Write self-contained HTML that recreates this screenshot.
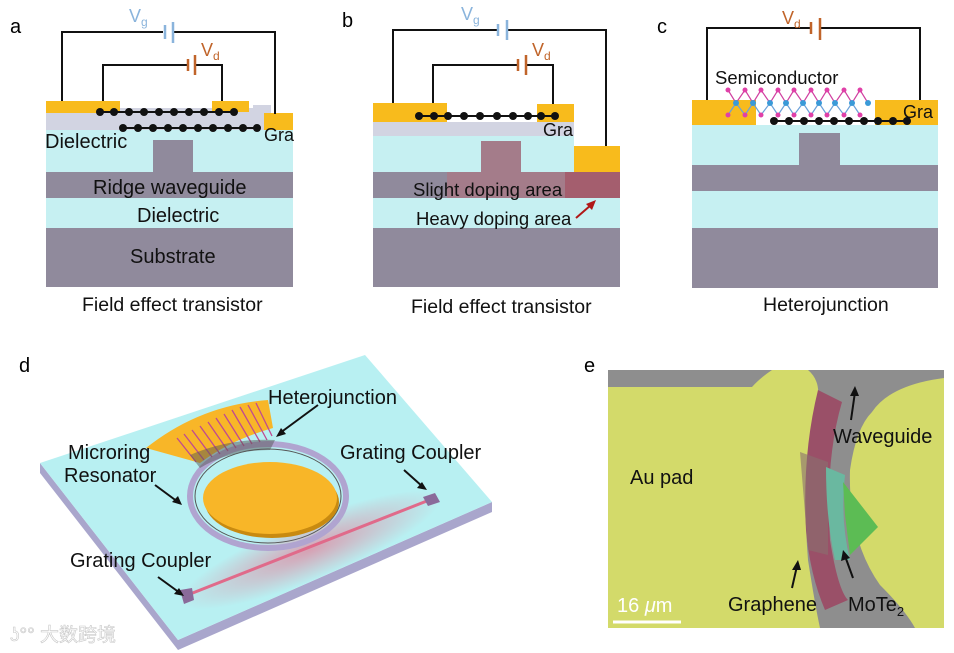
<!DOCTYPE html>
<html><head><meta charset="utf-8"><style>
html,body{margin:0;padding:0;background:#fff;}
svg{display:block;}
text{font-family:"Liberation Sans","Noto Sans CJK SC",sans-serif;}
</style></head><body>
<svg width="954" height="653" viewBox="0 0 954 653" xmlns="http://www.w3.org/2000/svg">
<defs>
<radialGradient id="glow" cx="0.5" cy="0.5" r="0.5"><stop offset="0" stop-color="#f06080" stop-opacity="0.55"/><stop offset="1" stop-color="#f06080" stop-opacity="0"/></radialGradient>
</defs>

<!-- ===== Panel a ===== -->
<text x="10" y="33" font-size="20">a</text>
<rect x="46" y="130" width="247" height="42" fill="#c6f0f2"/>
<rect x="153" y="140" width="40" height="32" fill="#908a9c"/>
<rect x="46" y="172" width="247" height="26" fill="#908a9c"/>
<rect x="46" y="198" width="247" height="30" fill="#c6f0f2"/>
<rect x="46" y="228" width="247" height="59" fill="#908a9c"/>
<rect x="46" y="113" width="218" height="17" fill="#d2d4e2"/>
<rect x="120" y="108" width="140" height="8" fill="#d2d4e2"/>
<rect x="253" y="105" width="18" height="8" fill="#d2d4e2"/>
<rect x="46" y="101" width="74" height="12" fill="#f8bb1c"/>
<rect x="212" y="101" width="37" height="11" fill="#f8bb1c"/>
<rect x="264" y="113" width="29" height="17" fill="#f8bb1c"/>
<g fill="none" stroke="#111" stroke-width="2">
<polyline points="62,101 62,32 163,32"/><polyline points="174,32 275,32 275,114"/>
<polyline points="103,101 103,65 187,65"/><polyline points="195,65 222,65 222,101"/>
</g>
<g stroke="#8ab4dc" stroke-width="2.5"><line x1="165" y1="25" x2="165" y2="39"/><line x1="173" y1="22" x2="173" y2="43"/></g>
<g stroke="#c0642a" stroke-width="2.5"><line x1="188" y1="59" x2="188" y2="71"/><line x1="195" y1="55" x2="195" y2="75"/></g>
<text x="129" y="22" font-size="18" fill="#8ab4dc">V<tspan font-size="12" dy="4">g</tspan></text>
<text x="201" y="56" font-size="18" fill="#c0642a">V<tspan font-size="12" dy="4">d</tspan></text>
<line x1="100" y1="112" x2="235" y2="112" stroke="#111" stroke-width="2"/>
<g fill="#111"><circle cx="100" cy="112" r="4"/><circle cx="114" cy="112" r="4"/><circle cx="129" cy="112" r="4"/><circle cx="144" cy="112" r="4"/><circle cx="159" cy="112" r="4"/><circle cx="174" cy="112" r="4"/><circle cx="189" cy="112" r="4"/><circle cx="204" cy="112" r="4"/><circle cx="219" cy="112" r="4"/><circle cx="234" cy="112" r="4"/></g>
<line x1="122" y1="128" x2="258" y2="128" stroke="#111" stroke-width="2"/>
<g fill="#111"><circle cx="123" cy="128" r="4"/><circle cx="138" cy="128" r="4"/><circle cx="153" cy="128" r="4"/><circle cx="168" cy="128" r="4"/><circle cx="183" cy="128" r="4"/><circle cx="198" cy="128" r="4"/><circle cx="213" cy="128" r="4"/><circle cx="228" cy="128" r="4"/><circle cx="243" cy="128" r="4"/><circle cx="257" cy="128" r="4"/></g>
<text x="45" y="148" font-size="20" fill="#111">Dielectric</text>
<text x="264" y="141" font-size="18" fill="#111">Gra</text>
<text x="93" y="194" font-size="20" fill="#111">Ridge waveguide</text>
<text x="137" y="222" font-size="20" fill="#111">Dielectric</text>
<text x="130" y="263" font-size="20" fill="#111">Substrate</text>
<text x="82" y="311" font-size="19.5" fill="#111">Field effect transistor</text>

<!-- ===== Panel b ===== -->
<text x="342" y="27" font-size="20">b</text>
<rect x="373" y="136" width="201" height="36" fill="#c6f0f2"/>
<rect x="574" y="146" width="46" height="26" fill="#f8bb1c"/>
<rect x="481" y="141" width="40" height="31" fill="#a47c8a"/>
<rect x="373" y="172" width="74" height="26" fill="#908a9c"/>
<rect x="447" y="172" width="118" height="26" fill="#a47c8a"/>
<rect x="565" y="172" width="55" height="26" fill="#a45e6e"/>
<rect x="373" y="198" width="247" height="30" fill="#c6f0f2"/>
<rect x="373" y="228" width="247" height="59" fill="#908a9c"/>
<rect x="373" y="122" width="201" height="14" fill="#d2d4e2"/>
<rect x="373" y="103" width="74" height="19" fill="#f8bb1c"/>
<rect x="537" y="104" width="37" height="18" fill="#f8bb1c"/>
<g fill="none" stroke="#111" stroke-width="2">
<polyline points="393,103 393,30 497,30"/><polyline points="508,30 606,30 606,146"/>
<polyline points="433,103 433,65 517,65"/><polyline points="527,65 553,65 553,104"/>
</g>
<g stroke="#8ab4dc" stroke-width="2.5"><line x1="498" y1="24" x2="498" y2="36"/><line x1="507" y1="20" x2="507" y2="40"/></g>
<g stroke="#c0642a" stroke-width="2.5"><line x1="518" y1="59" x2="518" y2="71"/><line x1="526" y1="55" x2="526" y2="75"/></g>
<text x="461" y="20" font-size="18" fill="#8ab4dc">V<tspan font-size="12" dy="4">g</tspan></text>
<text x="532" y="56" font-size="18" fill="#c0642a">V<tspan font-size="12" dy="4">d</tspan></text>
<line x1="418" y1="116" x2="556" y2="116" stroke="#111" stroke-width="2"/>
<g fill="#111"><circle cx="419" cy="116" r="4"/><circle cx="434" cy="116" r="4"/><circle cx="448" cy="116" r="4"/><circle cx="464" cy="116" r="4"/><circle cx="480" cy="116" r="4"/><circle cx="497" cy="116" r="4"/><circle cx="513" cy="116" r="4"/><circle cx="528" cy="116" r="4"/><circle cx="541" cy="116" r="4"/><circle cx="555" cy="116" r="4"/></g>
<text x="543" y="136" font-size="18" fill="#111">Gra</text>
<text x="413" y="196" font-size="18.5" fill="#111">Slight doping area</text>
<text x="416" y="225" font-size="18.5" fill="#111">Heavy doping area</text>
<line x1="576" y1="218" x2="591" y2="205" stroke="#b01818" stroke-width="2"/>
<polygon points="596,200 586,204 592,210" fill="#b01818"/>
<text x="411" y="313" font-size="19.5" fill="#111">Field effect transistor</text>

<!-- ===== Panel c ===== -->
<text x="657" y="33" font-size="20">c</text>
<rect x="692" y="125" width="246" height="40" fill="#c6f0f2"/>
<rect x="799" y="133" width="41" height="32" fill="#908a9c"/>
<rect x="692" y="165" width="246" height="26" fill="#908a9c"/>
<rect x="692" y="191" width="246" height="37" fill="#c6f0f2"/>
<rect x="692" y="228" width="246" height="60" fill="#908a9c"/>
<rect x="692" y="100" width="64" height="25" fill="#f8bb1c"/>
<rect x="875" y="100" width="63" height="25" fill="#f8bb1c"/>
<g fill="none" stroke="#111" stroke-width="2">
<polyline points="707,100 707,28 810,28"/><polyline points="821,28 920,28 920,100"/>
</g>
<g stroke="#c0642a" stroke-width="2.5"><line x1="811" y1="22" x2="811" y2="34"/><line x1="820" y1="18" x2="820" y2="40"/></g>
<text x="782" y="24" font-size="18" fill="#c0642a">V<tspan font-size="12" dy="4">d</tspan></text>
<text x="715" y="84" font-size="18.5" fill="#111">Semiconductor</text>
<g stroke="#d040a0" stroke-width="1.2" fill="none">
<polyline points="728,90 736,103 745,90 753,103 761,90 770,103 778,90 786,103 794,90 803,103 811,90 819,103 827,90 835,103 844,90 852,103 860,90 868,103 "/>
</g>
<g stroke="#6aa0d8" stroke-width="1.2" fill="none">
<polyline points="728,115 736,103 745,115 753,103 761,115 770,103 778,115 786,103 794,115 803,103 811,115 819,103 827,115 835,103 844,115 852,103 860,115"/>
</g>
<g fill="#e040a8"><circle cx="728" cy="90" r="2.5"/><circle cx="745" cy="90" r="2.5"/><circle cx="761" cy="90" r="2.5"/><circle cx="778" cy="90" r="2.5"/><circle cx="794" cy="90" r="2.5"/><circle cx="811" cy="90" r="2.5"/><circle cx="827" cy="90" r="2.5"/><circle cx="844" cy="90" r="2.5"/><circle cx="860" cy="90" r="2.5"/>
<circle cx="728" cy="115" r="2.5"/><circle cx="745" cy="115" r="2.5"/><circle cx="761" cy="115" r="2.5"/><circle cx="778" cy="115" r="2.5"/><circle cx="794" cy="115" r="2.5"/><circle cx="811" cy="115" r="2.5"/><circle cx="827" cy="115" r="2.5"/><circle cx="844" cy="115" r="2.5"/><circle cx="860" cy="115" r="2.5"/></g>
<g fill="#3a9ad8"><circle cx="736" cy="103" r="3"/><circle cx="753" cy="103" r="3"/><circle cx="770" cy="103" r="3"/><circle cx="786" cy="103" r="3"/><circle cx="803" cy="103" r="3"/><circle cx="819" cy="103" r="3"/><circle cx="835" cy="103" r="3"/><circle cx="852" cy="103" r="3"/><circle cx="868" cy="103" r="3"/></g>
<line x1="773" y1="121" x2="908" y2="121" stroke="#111" stroke-width="2"/>
<g fill="#111"><circle cx="774" cy="121" r="4"/><circle cx="789" cy="121" r="4"/><circle cx="804" cy="121" r="4"/><circle cx="819" cy="121" r="4"/><circle cx="834" cy="121" r="4"/><circle cx="849" cy="121" r="4"/><circle cx="864" cy="121" r="4"/><circle cx="878" cy="121" r="4"/><circle cx="893" cy="121" r="4"/><circle cx="907" cy="121" r="4"/></g>
<text x="903" y="118" font-size="18" fill="#111">Gra</text>
<text x="763" y="311" font-size="19.5" fill="#111">Heterojunction</text>

<!-- ===== Panel d ===== -->
<text x="19" y="372" font-size="20">d</text>
<polygon points="40,463 40,473 178,650 492,512 492,502 178,640" fill="#a9a6cc"/>
<polygon points="40,463 365,355 492,502 178,640" fill="#b8f0f2"/>
<ellipse cx="310" cy="550" rx="140" ry="30" fill="url(#glow)" transform="rotate(-22 310 550)"/>
<line x1="185" y1="596" x2="437" y2="497" stroke="#e06a8a" stroke-width="3"/>
<polygon points="180,590 192,588 194,600 184,604" fill="#8a6a9a"/>
<polygon points="423,497 435,493 440,502 428,506" fill="#8a6a9a"/>
<ellipse cx="268" cy="496" rx="78" ry="52" fill="none" stroke="#b0a4d0" stroke-width="6"/>
<ellipse cx="268" cy="496" rx="73" ry="47" fill="none" stroke="#555" stroke-width="1"/>
<ellipse cx="272" cy="502" rx="67" ry="36" fill="#c88a10"/>
<ellipse cx="270" cy="498" rx="67" ry="36" fill="#f8b628"/>
<path d="M146,448 Q200,405 268,400 L273,428 Q230,440 200,463 Z" fill="#f8b628"/>
<g stroke="#c04a90" stroke-width="1.3">
<line x1="177" y1="438" x2="196" y2="462"/><line x1="184" y1="434" x2="204" y2="460"/><line x1="192" y1="430" x2="212" y2="457"/><line x1="200" y1="426" x2="220" y2="454"/><line x1="208" y1="422" x2="228" y2="451"/><line x1="216" y1="418" x2="236" y2="448"/><line x1="224" y1="414" x2="244" y2="446"/><line x1="232" y1="410" x2="252" y2="444"/><line x1="240" y1="407" x2="260" y2="442"/><line x1="248" y1="405" x2="267" y2="440"/><line x1="256" y1="403" x2="272" y2="436"/>
</g>
<path d="M190,455 Q230,438 275,440 L270,450 Q230,450 200,468 Z" fill="#555" opacity="0.5"/>
<g fill="none" stroke="#111" stroke-width="2">
<line x1="318" y1="405" x2="280" y2="433"/><line x1="155" y1="485" x2="178" y2="502"/><line x1="404" y1="470" x2="423" y2="487"/><line x1="158" y1="577" x2="180" y2="593"/>
</g>
<polygon points="276,437 281,428 286,434" fill="#111"/>
<polygon points="182,505 172,502 178,496" fill="#111"/>
<polygon points="427,490 417,488 422,482" fill="#111"/>
<polygon points="184,596 174,594 179,588" fill="#111"/>
<text x="268" y="404" font-size="20" fill="#111">Heterojunction</text>
<text x="68" y="459" font-size="20" fill="#111">Microring</text>
<text x="64" y="482" font-size="20" fill="#111">Resonator</text>
<text x="340" y="459" font-size="20" fill="#111">Grating Coupler</text>
<text x="70" y="567" font-size="20" fill="#111">Grating Coupler</text>
<text x="10" y="641" font-size="19" fill="#ffffff" stroke="#c8c8c8" stroke-width="0.6">ʖ°° 大数跨境</text>

<!-- ===== Panel e ===== -->
<text x="584" y="372" font-size="20">e</text>
<rect x="608" y="370" width="336" height="258" fill="#8e8e8e"/>
<path d="M608,387 L752,387 Q760,378 772,370 L808,370 Q820,380 818,398 Q800,460 808,560 Q815,605 820,628 L608,628 Z" fill="#d3da6a"/>
<path d="M944,378 Q890,385 872,412 Q856,428 850,470 Q848,540 880,585 Q905,610 915,628 L944,628 Z" fill="#d3da6a"/>
<path d="M818,390 L842,402 Q825,460 830,540 Q838,590 848,600 L825,610 Q810,575 806,530 Q802,455 818,390 Z" fill="#9a5068"/>
<path d="M800,452 L828,462 L828,555 L808,550 Z" fill="#8a7070" opacity="0.6"/>
<path d="M826,467 L845,475 Q840,520 850,560 L835,560 Q826,520 826,467 Z" fill="#6ab8a0"/>
<polygon points="843,482 878,527 850,555 845,515" fill="#5cbc54"/>
<line x1="851" y1="420" x2="855" y2="392" stroke="#111" stroke-width="2"/>
<polygon points="855,386 850,396 859,396" fill="#111"/>
<line x1="792" y1="588" x2="797" y2="566" stroke="#111" stroke-width="2"/>
<polygon points="798,560 792,570 801,570" fill="#111"/>
<line x1="853" y1="578" x2="845" y2="556" stroke="#111" stroke-width="2"/>
<polygon points="843,550 841,561 850,558" fill="#111"/>
<text x="630" y="484" font-size="20" fill="#111">Au pad</text>
<text x="833" y="443" font-size="20" fill="#111">Waveguide</text>
<text x="728" y="611" font-size="20" fill="#111">Graphene</text>
<text x="848" y="611" font-size="20" fill="#111">MoTe<tspan font-size="13" dy="5">2</tspan></text>
<text x="617" y="612" font-size="20" fill="#fff">16 <tspan font-style="italic">μ</tspan>m</text>
<line x1="613" y1="622" x2="681" y2="622" stroke="#fff" stroke-width="3"/>
</svg>
</body></html>
